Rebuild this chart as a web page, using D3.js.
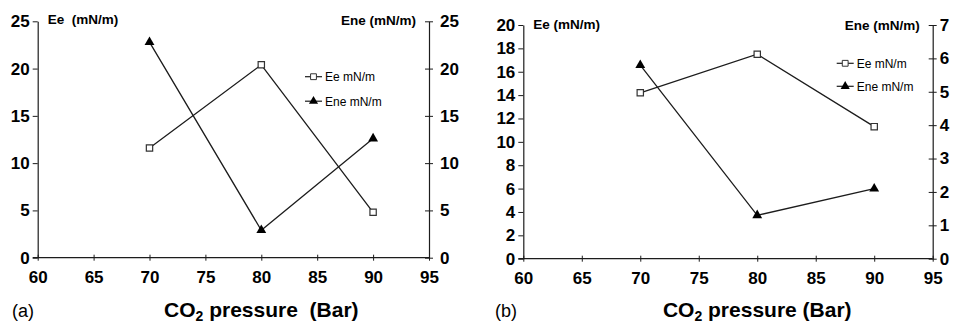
<!DOCTYPE html>
<html>
<head>
<meta charset="utf-8">
<script src="https://cdn.jsdelivr.net/npm/d3@7"></script>
<style>
  html, body { margin: 0; padding: 0; background: #fff; }
  svg { display: block; font-family: "Liberation Sans", Arial, sans-serif; }
  svg text { font-family: "Liberation Sans", Arial, sans-serif; }
  .pre { white-space: pre; }
</style>
</head>
<body>
<svg id="chart" width="954" height="324"></svg>
<script>
// CO2 pressure (Bar)
const pressure = [70, 80, 90];
const xTicks = [60, 65, 70, 75, 80, 85, 90, 95];

// Panel (a)
const eeA = [11.6, 20.4, 4.8];
const eneA = [22.8, 2.9, 12.6];
const leftTicksA = [0, 5, 10, 15, 20, 25];
const rightTicksA = [0, 5, 10, 15, 20, 25];

// Panel (b)
const eeB = [14.2, 17.5, 11.3];
const eneB = [5.8, 1.3, 2.1];
const leftTicksB = [0, 2, 4, 6, 8, 10, 12, 14, 16, 18, 20];
const rightTicksB = [0, 1, 2, 3, 4, 5, 6, 7];

const seriesNames = ["Ee mN/m", "Ene mN/m"];

const svg = d3.select("#chart");
const ink = "#1c1c1c";
const intFmt = d3.format("d");

// bold tick numbers used on every axis
function styleTickText(sel) {
  sel.style("font-family", "'Liberation Sans', Arial, sans-serif")
    .style("font-size", "17px")
    .style("font-weight", "700")
    .style("fill", "#000");
}

function panel(cfg) {
  const g = svg.append("g");
  const x = d3.scaleLinear().domain([60, 95]).range([cfg.x0, cfg.x1]);
  const yL = d3.scaleLinear().domain([0, d3.max(cfg.leftTicks)]).range([cfg.yb, cfg.yt]);
  const yR = d3.scaleLinear().domain([0, d3.max(cfg.rightTicks)]).range([cfg.yb, cfg.yt]);

  // bottom axis: ticks cross the line
  const xa = g.append("g").attr("transform", `translate(0,${cfg.yb})`)
    .call(d3.axisBottom(x).tickValues(xTicks).tickFormat(intFmt).tickSize(3).tickSizeOuter(0));
  xa.attr("font-size", null).attr("font-family", null);
  xa.select(".domain").remove();
  xa.selectAll(".tick line").attr("y1", -3).attr("y2", 3).attr("stroke", ink);
  xa.selectAll(".tick text").attr("y", 13).attr("dy", "0.71em").call(styleTickText);
  g.append("line").attr("x1", cfg.x0 - 5).attr("x2", cfg.x1)
    .attr("y1", cfg.yb).attr("y2", cfg.yb).attr("stroke", ink).attr("stroke-width", 1.2);

  // left axis: ticks outside
  const la = g.append("g").attr("transform", `translate(${cfg.x0},0)`)
    .call(d3.axisLeft(yL).tickValues(cfg.leftTicks).tickFormat(intFmt).tickSize(5).tickSizeOuter(0));
  la.attr("font-size", null).attr("font-family", null);
  la.select(".domain").attr("stroke", ink).attr("stroke-width", 1.2);
  la.selectAll(".tick line").attr("stroke", ink);
  la.selectAll(".tick text").attr("x", -8).call(styleTickText);

  // right axis: ticks cross the line
  const ra = g.append("g").attr("transform", `translate(${cfg.x1},0)`)
    .call(d3.axisRight(yR).tickValues(cfg.rightTicks).tickFormat(intFmt).tickSize(4).tickSizeOuter(0));
  ra.attr("font-size", null).attr("font-family", null);
  ra.select(".domain").attr("stroke", ink).attr("stroke-width", 1.2);
  ra.selectAll(".tick line").attr("x1", -4).attr("x2", 4).attr("stroke", ink);
  ra.selectAll(".tick text").attr("x", cfg.rightLabelDx).call(styleTickText);

  // axis titles
  g.append("text").attr("class", "pre").attr("x", cfg.x0 + 10).attr("y", cfg.yt + cfg.titleDy)
    .style("font-size", "13.5px").style("font-weight", "bold").text(cfg.leftTitle);
  g.append("text").attr("class", "pre").attr("x", cfg.x1 - 13).attr("y", cfg.yt + cfg.titleDy + 1)
    .attr("text-anchor", "end").style("font-size", "13.5px").style("font-weight", "bold").text("Ene (mN/m)");

  // series lines
  const lineL = d3.line().x((d, i) => x(pressure[i])).y(d => yL(d));
  const lineR = d3.line().x((d, i) => x(pressure[i])).y(d => yR(d));
  g.append("path").attr("d", lineL(cfg.ee)).attr("fill", "none").attr("stroke", ink).attr("stroke-width", 1.3);
  g.append("path").attr("d", lineR(cfg.ene)).attr("fill", "none").attr("stroke", ink).attr("stroke-width", 1.3);

  const sq = d3.symbol().type(d3.symbolSquare).size(40);
  const tri = d3.symbol().type(d3.symbolTriangle).size(42);

  g.selectAll(".ee").data(cfg.ee).join("path")
    .attr("transform", (d, i) => `translate(${x(pressure[i])},${yL(d)})`)
    .attr("d", sq).attr("fill", "#fff").attr("stroke", "#333").attr("stroke-width", 1.2);
  g.selectAll(".ene").data(cfg.ene).join("path")
    .attr("transform", (d, i) => `translate(${x(pressure[i])},${yR(d)})`)
    .attr("d", tri).attr("fill", "#000");

  // legend
  const lg = g.append("g").attr("transform", `translate(${cfg.legX},${cfg.legY})`);
  seriesNames.forEach((name, i) => {
    const row = lg.append("g").attr("transform", `translate(0,${i * cfg.legGap})`);
    row.append("line").attr("x1", 0).attr("x2", 17).attr("stroke", ink).attr("stroke-width", 1.2);
    row.append("path").attr("transform", "translate(8.5,0)")
      .attr("d", i === 0 ? d3.symbol().type(d3.symbolSquare).size(34) : d3.symbol().type(d3.symbolTriangle).size(36))
      .attr("fill", i === 0 ? "#fff" : "#000").attr("stroke", i === 0 ? "#333" : "none").attr("stroke-width", 1);
    row.append("text").attr("x", 20).attr("dy", "0.36em").style("font-size", "12px").text(name);
  });

  // x-axis title and panel tag
  const t = g.append("text").attr("class", "pre").attr("x", x(80)).attr("y", 317)
    .attr("text-anchor", "middle").style("font-size", "21px").style("font-weight", "bold");
  t.append("tspan").text("CO");
  t.append("tspan").style("font-size", "14px").attr("dy", 4).text("2");
  t.append("tspan").attr("dy", -4).text(cfg.xTitleRest);

  g.append("text").attr("x", cfg.tagX).attr("y", 317).style("font-size", "18px").text(cfg.tag);
}

panel({
  x0: 37.7, x1: 429, yb: 257.7, yt: 21.3,
  leftTicks: leftTicksA, rightTicks: rightTicksA,
  ee: eeA, ene: eneA, rightLabelDx: 11,
  leftTitle: "Ee  (mN/m)", titleDy: 3,
  legX: 305, legY: 76.7, legGap: 24.5,
  xTitleRest: " pressure  (Bar)", tag: "(a)", tagX: 12
});

panel({
  x0: 523.3, x1: 932.7, yb: 258.7, yt: 25,
  leftTicks: leftTicksB, rightTicks: rightTicksB,
  ee: eeB, ene: eneB, rightLabelDx: 7,
  leftTitle: "Ee (mN/m)", titleDy: 4,
  legX: 836.7, legY: 63.3, legGap: 23,
  xTitleRest: " pressure (Bar)", tag: "(b)", tagX: 495
});
</script>
</body>
</html>
